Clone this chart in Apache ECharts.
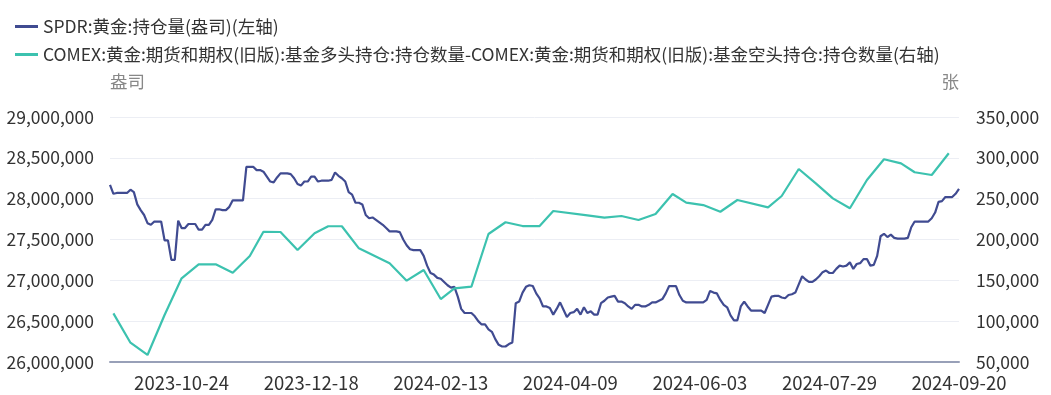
<!DOCTYPE html>
<html>
<head>
<meta charset="utf-8">
<script src="https://cdn.jsdelivr.net/npm/echarts@6/dist/echarts.min.js"></script>
<style>
html,body{margin:0;padding:0;background:#fff;}
#chart{width:1051px;height:395px;}
</style>
</head>
<body>
<div id="chart"></div>
<script>
// ---- data ----
const startDate = '2023-09-25';
const endDate = '2024-09-20';
const holidays = ['2023-11-23','2023-12-25','2024-01-01','2024-01-15','2024-02-19','2024-03-29','2024-05-27','2024-06-19','2024-07-04','2024-09-02'];
const tickLabels = ['2023-10-24','2023-12-18','2024-02-13','2024-04-09','2024-06-03','2024-07-29','2024-09-20'];

const spdrName = 'SPDR:黄金:持仓量(盎司)(左轴)';
const comexName = 'COMEX:黄金:期货和期权(旧版):基金多头持仓:持仓数量-COMEX:黄金:期货和期权(旧版):基金空头持仓:持仓数量(右轴)';

// SPDR holdings, one value per trading day (oz)
const spdrValues = [
28170000,28060000,28070000,28070000,28070000,28070000,28110000,28080000,27930000,27860000,
27800000,27700000,27680000,27720000,27720000,27720000,27490000,27490000,27250000,27250000,
27730000,27640000,27640000,27690000,27690000,27690000,27620000,27620000,27680000,27680000,
27740000,27870000,27870000,27860000,27860000,27900000,27980000,27980000,27980000,27980000,
28390000,28390000,28390000,28350000,28350000,28330000,28270000,28210000,28200000,28260000,
28310000,28310000,28310000,28300000,28250000,28180000,28160000,28210000,28210000,28270000,
28270000,28210000,28220000,28220000,28220000,28230000,28320000,28280000,28250000,28210000,
28080000,28050000,27950000,27950000,27930000,27800000,27760000,27770000,27740000,27710000,
27680000,27640000,27600000,27600000,27600000,27590000,27500000,27430000,27380000,27370000,
27370000,27370000,27300000,27180000,27090000,27070000,27030000,27020000,26980000,26940000,
26910000,26920000,26800000,26650000,26600000,26600000,26600000,26560000,26500000,26460000,
26460000,26400000,26370000,26280000,26210000,26190000,26190000,26220000,26240000,26720000,
26740000,26850000,26920000,26940000,26930000,26840000,26780000,26680000,26680000,26660000,
26580000,26650000,26730000,26640000,26550000,26600000,26610000,26650000,26580000,26670000,
26600000,26620000,26580000,26580000,26720000,26750000,26790000,26800000,26810000,26740000,
26740000,26720000,26680000,26650000,26700000,26700000,26680000,26680000,26700000,26730000,
26730000,26750000,26770000,26840000,26930000,26930000,26930000,26820000,26750000,26730000,
26730000,26730000,26730000,26730000,26730000,26760000,26870000,26850000,26840000,26760000,
26700000,26670000,26570000,26510000,26510000,26680000,26740000,26680000,26630000,26630000,
26630000,26630000,26600000,26700000,26800000,26810000,26810000,26790000,26780000,26820000,
26830000,26850000,26950000,27050000,27010000,26980000,26980000,27010000,27050000,27100000,
27120000,27090000,27090000,27140000,27180000,27170000,27180000,27220000,27140000,27200000,
27210000,27260000,27260000,27180000,27190000,27300000,27540000,27570000,27530000,27560000,
27520000,27510000,27510000,27510000,27520000,27650000,27720000,27720000,27720000,27720000,
27720000,27760000,27830000,27960000,27970000,28020000,28020000,28020000,28060000,28120000
];

// COMEX net fund position (weekly, contracts)
const comexDates = [
'2023-09-26','2023-10-03','2023-10-10','2023-10-17','2023-10-24','2023-10-31','2023-11-07','2023-11-14',
'2023-11-21','2023-11-28','2023-12-05','2023-12-12','2023-12-19','2023-12-26','2024-01-02','2024-01-09',
'2024-01-23','2024-01-30','2024-02-06','2024-02-13','2024-02-20','2024-02-27','2024-03-05','2024-03-12',
'2024-03-19','2024-03-26','2024-04-02','2024-04-16','2024-04-23','2024-04-30','2024-05-07','2024-05-14',
'2024-05-21','2024-05-28','2024-06-04','2024-06-11','2024-06-18','2024-07-02','2024-07-09','2024-07-16',
'2024-07-23','2024-07-30','2024-08-06','2024-08-13','2024-08-20','2024-08-27','2024-09-03','2024-09-10',
'2024-09-17'
];
const comexValues = [
109600,73600,58600,107600,152500,169600,169600,159300,
179800,209500,209200,187100,207600,216200,216200,189200,
170900,149600,162700,127100,140200,142200,206700,221100,
216500,216500,234900,229600,226700,228800,223900,231200,
255700,245100,242200,234000,248400,239400,253300,286300,
268800,250400,238200,272900,298200,293300,282300,279000,
305600
];

// ---- build categories (trading days) ----
const categories = [];
(function(){
  const d = new Date(startDate + 'T00:00:00Z');
  const end = new Date(endDate + 'T00:00:00Z');
  while (d <= end) {
    const wd = d.getUTCDay();
    const s = d.toISOString().slice(0,10);
    if (wd !== 0 && wd !== 6 && holidays.indexOf(s) < 0) categories.push(s);
    d.setUTCDate(d.getUTCDate() + 1);
  }
})();

const comexSeries = categories.map(function(c){
  const k = comexDates.indexOf(c);
  return k >= 0 ? comexValues[k] : null;
});

const fmt = function(v){ return Number(v).toLocaleString('en-US'); };
const FONT = '"Noto Sans CJK SC", "Noto Sans", sans-serif';

const chart = echarts.init(document.getElementById('chart'), null, {renderer:'canvas'});
chart.setOption({
  animation: false,
  backgroundColor: '#ffffff',
  textStyle: {fontFamily: FONT},
  legend: {
    orient: 'vertical',
    left: 15,
    top: 17,
    padding: 0,
    itemWidth: 23,
    itemHeight: 3,
    itemGap: 9,
    icon: 'rect',
    textStyle: {fontSize: 17.5, color: '#333333', fontFamily: FONT, lineHeight: 19},
    data: [spdrName, comexName]
  },
  grid: {left: 110, right: 92, top: 117, bottom: 33, containLabel: false},
  xAxis: {
    type: 'category',
    data: categories,
    boundaryGap: false,
    axisLine: {show: true, lineStyle: {color: '#98a0b8', width: 2}},
    axisTick: {show: false},
    axisLabel: {
      fontSize: 18.5, color: '#333333', margin: 12, fontFamily: FONT,
      interval: function(i, v){ return tickLabels.indexOf(v) >= 0; }
    },
    splitLine: {show: false}
  },
  yAxis: [{
    type: 'value',
    position: 'left',
    min: 26000000, max: 29000000, interval: 500000,
    name: '盎司',
    nameLocation: 'end',
    nameGap: 27,
    nameTextStyle: {color: '#888888', fontSize: 17.5, align: 'left', fontFamily: FONT},
    axisLine: {show: false},
    axisTick: {show: false},
    axisLabel: {fontSize: 17.5, color: '#333333', margin: 16, formatter: fmt, fontFamily: FONT},
    splitLine: {show: true, lineStyle: {color: '#eceef4', width: 1}}
  }, {
    type: 'value',
    position: 'right',
    min: 50000, max: 350000, interval: 50000,
    name: '张',
    nameLocation: 'end',
    nameGap: 27,
    nameTextStyle: {color: '#888888', fontSize: 17.5, align: 'right', fontFamily: FONT},
    axisLine: {show: false},
    axisTick: {show: false},
    axisLabel: {fontSize: 17.5, color: '#333333', margin: 17, formatter: fmt, fontFamily: FONT},
    splitLine: {show: false}
  }],
  series: [{
    name: spdrName,
    type: 'line',
    yAxisIndex: 0,
    data: spdrValues,
    showSymbol: false,
    symbol: 'none',
    lineStyle: {color: '#404b91', width: 2.2},
    itemStyle: {color: '#404b91'}
  }, {
    name: comexName,
    type: 'line',
    yAxisIndex: 1,
    data: comexSeries,
    connectNulls: true,
    showSymbol: false,
    symbol: 'none',
    lineStyle: {color: '#3cc2af', width: 2.2},
    itemStyle: {color: '#3cc2af'}
  }]
});
</script>
</body>
</html>
